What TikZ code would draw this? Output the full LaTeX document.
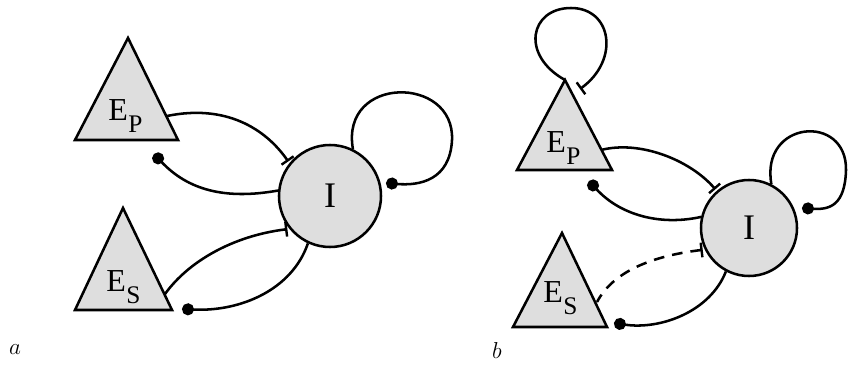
\documentclass[tikz,border=0pt]{standalone}
\usepackage{fontspec}
\setmainfont{Liberation Serif}
\usetikzlibrary{arrows.meta}
\definecolor{nodegray}{gray}{0.87}
\newcommand{\mysubE}[1]{{\fontsize{24}{27}\selectfont E}\kern0.4pt\raisebox{-9pt}{\fontsize{19}{22}\selectfont #1}}
\begin{document}
\begin{tikzpicture}[x=0.75pt,y=-0.75pt,
  lw/.style={line width=1.9pt},
  tri/.style={lw, draw, fill=nodegray, line join=miter},
  cnode/.style={circle, draw, lw, fill=nodegray, minimum size=#1, inner sep=0pt, font=\fontsize{27}{30}\selectfont},
  inh/.style={lw, -{Bar[width=11pt,line width=1.8pt]}, shorten >=1.5pt},
  act/.style={lw, -{Circle[length=9pt]}},
  lab/.style={anchor=base west, inner sep=0pt},
  panel/.style={inner sep=0pt, font=\fontsize{19}{22}\selectfont}
]
\useasboundingbox (0,0) rectangle (852,364);

% ---------- panel a ----------
\draw[tri] (128,38) -- (178,140) -- (75,140) -- cycle;
\node[lab] (EPa) at (108,120) {\mysubE{P}};
\draw[tri] (123,208) -- (172,310) -- (75,310) -- cycle;
\node[lab] (ESa) at (106,291) {\mysubE{S}};
\node[cnode=76.5pt] (Ia) at (330,196) {I};

\coordinate (EPa-r) at (167,116);
\coordinate (ESa-r) at (165,294);
\coordinate (dotEPa) at (154,154);
\coordinate (dotESa) at (182,309);
\coordinate (dotIa) at (386,183);

\draw[inh] (EPa-r) .. controls (225,104) and (265,128) .. (Ia.141);
\draw[act] (Ia.174) .. controls (225,200) and (188,190) .. (dotEPa);
\draw[inh] (ESa-r) .. controls (188,262) and (232,236) .. (Ia.219);
\draw[act] (Ia.245) .. controls (292,290) and (240,312) .. (dotESa);
\draw[act] (Ia.64) .. controls (340,75) and (455,75) .. (452,140)
  .. controls (450,180) and (420,186) .. (dotIa);

\node[panel] (la) at (15,350) {$a$};

% ---------- panel b ----------
\draw[tri] (565,80) -- (612,170) -- (517,170) -- cycle;
\node[lab] (EPb) at (546,152) {\mysubE{P}};
\draw[tri] (562,233) -- (607,327) -- (513,327) -- cycle;
\node[lab] (ESb) at (543,302) {\mysubE{S}};
\node[cnode=72pt] (Ib) at (749,228) {I};

\coordinate (EPb-top) at (565,80);
\coordinate (EPb-loopend) at (580,89);
\coordinate (EPb-r) at (601,150);
\coordinate (ESb-r) at (597,302);
\coordinate (dotEPb) at (589,181);
\coordinate (dotESb) at (614,323);
\coordinate (dotIb) at (802,208);

\draw[lw, -{Bar[width=11pt,line width=1.8pt]}] (EPb-top) .. controls (520,55) and (530,8) .. (571,8)
  .. controls (612,8) and (620,60) .. (EPb-loopend);
\draw[inh] (EPb-r) .. controls (640,140) and (690,160) .. (Ib.131);
\draw[act] (Ib.167) .. controls (660,226) and (620,215) .. (dotEPb);
\draw[lw, dash pattern=on 8pt off 6pt, {Bar[width=11pt,line width=1.8pt]}-, shorten <=1.5pt]
  (Ib.206) .. controls (660,255) and (615,268) .. (ESb-r);
\draw[act] (Ib.242) .. controls (710,312) and (660,330) .. (dotESb);
\draw[act] (Ib.63) .. controls (760,120) and (847,113) .. (846,170)
  .. controls (845,205) and (830,210) .. (dotIb);

\node[panel] (lb) at (497,350) {$b$};
\end{tikzpicture}
\end{document}
